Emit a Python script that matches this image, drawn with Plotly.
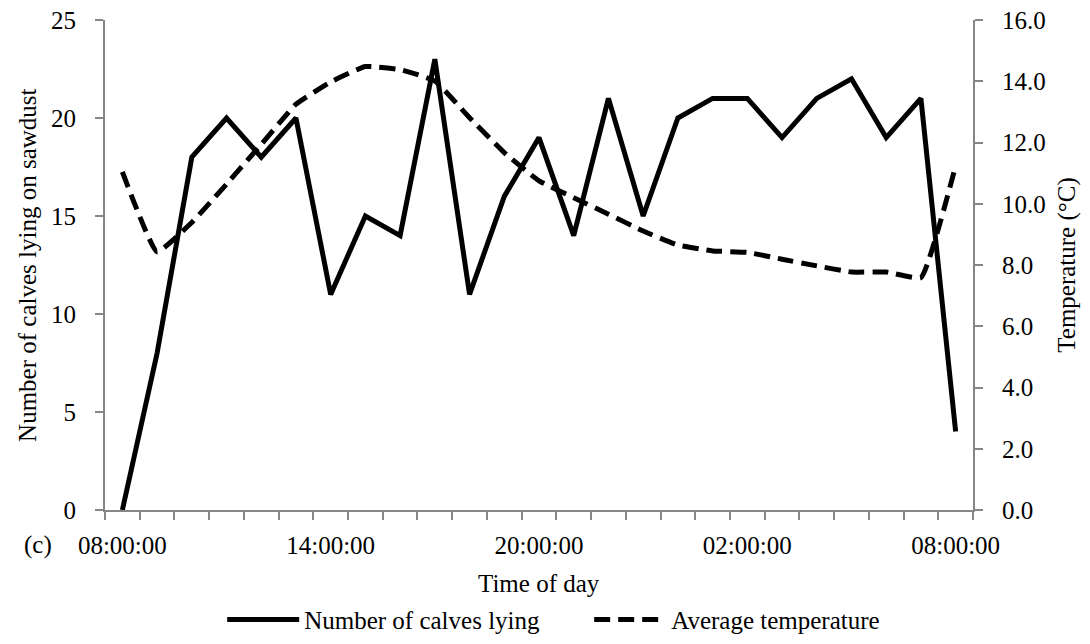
import plotly.graph_objects as go

hours = list(range(25))
tick_positions = [0, 6, 12, 18, 24]
tick_labels = ["08:00:00", "14:00:00", "20:00:00", "02:00:00", "08:00:00"]

calves_lying = [0, 8, 18, 20, 18, 20, 11, 15, 14, 23, 11, 16, 19, 14, 21, 15,
                20, 21, 21, 19, 21, 22, 19, 21, 4]
avg_temperature = [11.04, 8.43, 9.39, 10.64, 11.94, 13.25, 13.98, 14.48, 14.38,
                   14.01, 12.81, 11.67, 10.75, 10.2, 9.66, 9.11, 8.65, 8.46,
                   8.41, 8.19, 7.97, 7.77, 7.77, 7.59, 11.24]

FONT = "Liberation Serif, Times New Roman, serif"
AX = "#868686"

fig = go.Figure()
fig.add_trace(go.Scatter(
    x=hours, y=calves_lying, mode="lines", name="Number of calves lying",
    line=dict(color="black", width=5), yaxis="y"))
fig.add_trace(go.Scatter(
    x=hours, y=avg_temperature, mode="lines", name="Average temperature",
    line=dict(color="black", width=5, dash="16px,8px", shape="spline", smoothing=0.35),
    yaxis="y2"))

# page body keeps its default 8px margin, so the figure is sized to fit inside it
fig.update_layout(
    width=1074, height=628,
    margin=dict(l=97, r=109, t=12, b=126, autoexpand=False),
    paper_bgcolor="white", plot_bgcolor="white",
    font=dict(family=FONT, size=25, color="black"),
    showlegend=True,
    legend=dict(orientation="h", x=0.135, xanchor="left", y=-0.224, yanchor="middle",
                font=dict(size=25), itemwidth=72, entrywidth=280, entrywidthmode="pixels",
                bgcolor="rgba(0,0,0,0)"),
    xaxis=dict(
        range=[-0.5, 24.5], tickmode="array", tickvals=tick_positions, ticktext=tick_labels,
        ticks="", showgrid=False, zeroline=False, showline=True, linecolor=AX, linewidth=2,
        ticklabelstandoff=12, automargin=False, ticklabeloverflow="allow",
        minor=dict(tickmode="array", tickvals=[i - 0.5 for i in range(26)],
                   ticks="outside", ticklen=8, tickcolor=AX, tickwidth=2, showgrid=False),
    ),
    yaxis=dict(
        range=[0, 25], dtick=5, tick0=0, ticks="outside", ticklen=8, tickcolor=AX, tickwidth=2,
        showgrid=False, zeroline=False, showline=True, linecolor=AX, linewidth=2,
        ticklabelstandoff=14, automargin=False, ticklabeloverflow="allow",
    ),
    yaxis2=dict(
        range=[0, 16], dtick=2, tick0=0, tickformat=".1f", overlaying="y", side="right",
        ticks="outside", ticklen=8, tickcolor=AX, tickwidth=2,
        showgrid=False, zeroline=False, showline=True, linecolor=AX, linewidth=2,
        ticklabelstandoff=14, automargin=False, ticklabeloverflow="allow",
    ),
    annotations=[
        dict(text="Time of day", xref="paper", yref="paper", x=0.5, y=-0.149,
             xanchor="center", yanchor="middle", showarrow=False, font=dict(size=25)),
        dict(text="Number of calves lying on sawdust", xref="paper", yref="paper",
             x=-0.09, y=0.5, textangle=-90, xanchor="center", yanchor="middle",
             showarrow=False, font=dict(size=25)),
        dict(text="Temperature (°C)", xref="paper", yref="paper",
             x=1.108, y=0.5, textangle=-90, xanchor="center", yanchor="middle",
             showarrow=False, font=dict(size=25)),
        dict(text="(c)", xref="paper", yref="paper", x=-0.077, y=-0.071,
             xanchor="center", yanchor="middle", showarrow=False, font=dict(size=25)),
    ],
)

fig.write_html("out.html")
